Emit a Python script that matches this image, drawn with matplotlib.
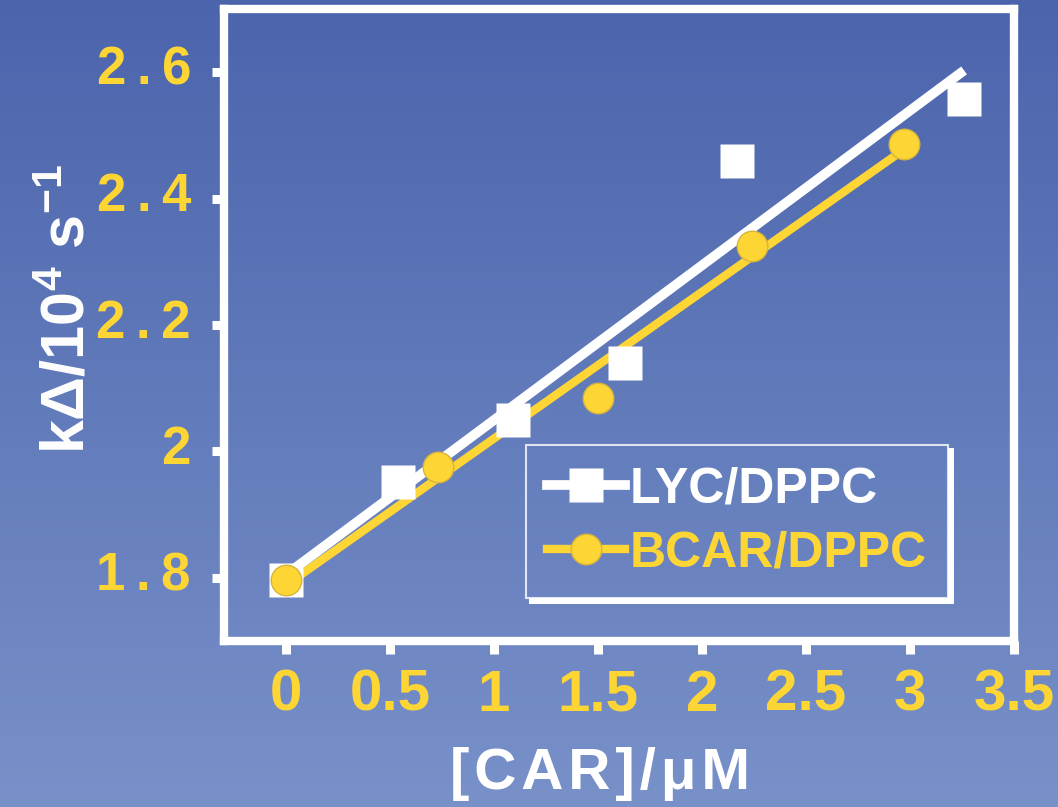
import numpy as np
import matplotlib
matplotlib.use("Agg")
import matplotlib.pyplot as plt
from matplotlib.lines import Line2D
from matplotlib.transforms import IdentityTransform, ScaledTranslation

# data
lyc_x = [0, 0.54, 1.09, 1.63, 2.17, 3.26]
lyc_y = [1.797, 1.952, 2.05, 2.14, 2.46, 2.557]
bcar_x = [0, 0.73, 1.5, 2.24, 2.97]
bcar_y = [1.797, 1.975, 2.084, 2.325, 2.487]

x_ticks = [0, 0.5, 1, 1.5, 2, 2.5, 3, 3.5]
x_labels = ["0", "0.5", "1", "1.5", "2", "2.5", "3", "3.5"]
y_ticks = [1.8, 2.0, 2.2, 2.4, 2.6]
y_labels = ["1.8", "2", "2.2", "2.4", "2.6"]

yellow = "#fdd535"
white = "white"

plt.rcParams["font.family"] = ["Liberation Sans", "DejaVu Sans"]
plt.rcParams["font.weight"] = "bold"
plt.rcParams["mathtext.default"] = "regular"


def spaced(s, sp):
    # the original text is drawn with loose letter spacing
    return sp.join(s)


fig = plt.figure(figsize=(10.58, 8.07), dpi=100)

# blue gradient behind everything
bg = fig.add_axes([0, 0, 1, 1], zorder=-10)
top = np.array([75, 100, 172]) / 255
bot = np.array([120, 145, 201]) / 255
t = np.linspace(0, 1, 256)[:, None]
grad = top * (1 - t) + bot * t
bg.imshow(grad[:, None, :], aspect="auto", extent=[0, 1, 0, 1])
bg.axis("off")

ax = fig.add_axes([0.2113, 0.2057, 0.7471, 0.7831])
ax.patch.set_alpha(0)

# linear fits
k1, b1 = np.polyfit(lyc_x, lyc_y, 1)
xx1 = np.array([min(lyc_x), max(lyc_x)])
ax.plot(xx1, k1 * xx1 + b1, color=white, lw=7, solid_capstyle="butt", zorder=2)
k2, b2 = np.polyfit(bcar_x, bcar_y, 1)
xx2 = np.array([min(bcar_x), max(bcar_x)])
ax.plot(xx2, k2 * xx2 + b2, color=yellow, lw=6, solid_capstyle="butt", zorder=3)

ax.plot(lyc_x, lyc_y, "s", color=white, ms=24, mec="none", zorder=4)
ax.plot(bcar_x, bcar_y, "o", color=yellow, ms=22, mec="#d8b43c", mew=1, zorder=5)

ax.set_xlim(-0.3, 3.5)
ax.set_ylim(1.7, 2.7)
ax.set_xticks(x_ticks)
ax.set_xticklabels(x_labels, fontsize=42, color=yellow, fontweight="bold")
ax.set_yticks(y_ticks)
ax.set_yticklabels([spaced(l, "\u2009") for l in y_labels], fontsize=38,
                   color=yellow, fontweight="bold")
ax.tick_params(direction="out", length=9, width=6.5, color=white, pad=11)
ax.tick_params(axis="y", pad=14.5)
for s in ax.spines.values():
    s.set_color(white)
    s.set_linewidth(6)
    s.set_capstyle("projecting")

# y labels sit a little above their ticks
for lab in ax.get_yticklabels():
    lab.set_transform(lab.get_transform() + ScaledTranslation(0, 0.07, fig.dpi_scale_trans))

fig.text(69 / 1058, 1 - 309 / 807, "k\u0394/10$^{4}$ s$^{-1}$", rotation=90,
         ha="center", va="center", color=white, fontsize=44, fontweight="bold")
fig.text(600 / 1058, 1 - 774 / 807, spaced("[CAR]/\u03bcM", "\u200a"),
         ha="center", va="center", color=white, fontsize=42, fontweight="bold")

handles = [
    Line2D([], [], color=white, lw=7, marker="s", ms=24, mec="none"),
    Line2D([], [], color=yellow, lw=6, marker="o", ms=22, mec="#d8b43c", mew=1),
]
leg = ax.legend(handles, ["LYC/DPPC", "BCAR/DPPC"], loc="upper left",
                bbox_to_anchor=(0.3827, 0.310), borderaxespad=0, frameon=True,
                fancybox=False, edgecolor=white, facecolor="none", fontsize=36,
                handlelength=1.55, handletextpad=0.1, borderpad=0.42,
                labelspacing=0.37)
leg.get_frame().set_linewidth(1.5)
for txt, c in zip(leg.get_texts(), [white, yellow]):
    txt.set_color(c)

# white offset shadow on the legend box
fig.canvas.draw()
bb = leg.get_window_extent()
fig.add_artist(Line2D([bb.x0 + 6, bb.x1 + 3, bb.x1 + 3],
                      [bb.y0 - 3.5, bb.y0 - 3.5, bb.y1 - 6],
                      transform=IdentityTransform(), color=white, lw=4.3,
                      solid_joinstyle="miter"))

fig.savefig("out.png", dpi=100)
